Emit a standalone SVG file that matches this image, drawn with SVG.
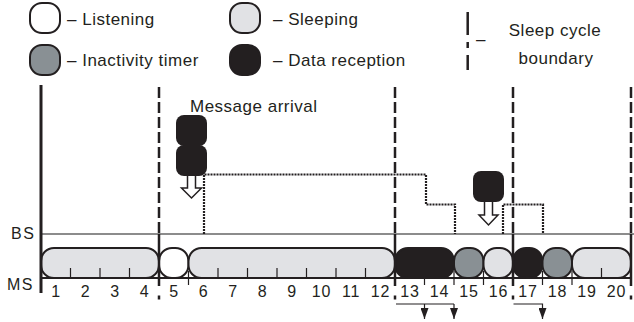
<svg xmlns="http://www.w3.org/2000/svg" width="634" height="322" viewBox="0 0 634 322">
<defs>
<style>
text{font-family:"Liberation Sans",Arial,sans-serif;fill:#231f20}
.lg{font-size:17px;letter-spacing:0.5px}
.ax{font-size:16px;letter-spacing:1.5px}
.num{font-size:16px;letter-spacing:0.8px;text-anchor:middle}
.pill{stroke:#231f20;stroke-width:2}
.sl{fill:#e1e2e5}.li{fill:#ffffff}.in{fill:#899094}.da{fill:#231f20}
.bnd{stroke:#231f20;stroke-width:2.5;stroke-dasharray:11 4;fill:none}
.bnds{stroke:#231f20;stroke-width:2.5;fill:none}
.tick{stroke:#231f20;stroke-width:1.2}
.dot{stroke:#231f20;stroke-width:2.2;stroke-dasharray:2 1;fill:none}
.hol{fill:#fff;stroke:#231f20;stroke-width:1.5}
.thin{stroke:#231f20;stroke-width:1.2;fill:none}
</style>
<marker id="tri" viewBox="0 0 11 8" refX="11" refY="4" markerWidth="11" markerHeight="8" markerUnits="userSpaceOnUse" orient="auto">
<path d="M0,0 L11,4 L0,8 Z" fill="#231f20"/>
</marker>
</defs>
<rect width="634" height="322" fill="#fff"/>

<g id="legend">
<g id="leg-listening"><rect class="pill li" x="30" y="3" width="30" height="30" rx="12"/><text class="lg" x="67" y="25">– Listening</text></g>
<g id="leg-inactivity"><rect class="pill in" x="30" y="45" width="30" height="30" rx="12"/><text class="lg" x="67" y="66">– Inactivity timer</text></g>
<g id="leg-sleeping"><rect class="pill sl" x="230" y="3" width="30" height="30" rx="12"/><text class="lg" x="273" y="25">– Sleeping</text></g>
<g id="leg-data"><rect class="pill da" x="230" y="45" width="30" height="30" rx="12"/><text class="lg" x="273" y="66">– Data reception</text></g>
<g id="leg-boundary">
<path class="bnds" d="M467.7,12 V35 M467.7,42 V48 M467.7,55 V70"/>
<text class="lg" x="476" y="45">–</text>
<text class="lg" x="555" y="36" text-anchor="middle">Sleep cycle</text>
<text class="lg" x="556" y="64" text-anchor="middle">boundary</text>
</g>
</g>

<g id="axes">
<line x1="41" y1="234" x2="634" y2="234" stroke="#666" stroke-width="1.6"/>
<line x1="41" y1="278" x2="631" y2="278" stroke="#231f20" stroke-width="2"/>
<text class="ax" x="11" y="238.5">BS</text>
<text class="ax" x="7" y="290">MS</text>
</g>

<g id="boundaries">
<path class="bnd" d="M159,87 V234 M395,87 V234 M513,87 V234 M631,87 V234"/>
</g>

<g id="timeline">
<g id="seg-1-4"><rect class="pill sl" x="41" y="248" width="118" height="30" rx="13"/></g>
<g id="seg-5"><rect class="pill li" x="159" y="248" width="29.5" height="30" rx="13"/></g>
<g id="seg-6-12"><rect class="pill sl" x="188.5" y="248" width="206.5" height="30" rx="13"/></g>
<g id="seg-13-14"><rect class="pill da" x="395" y="248" width="59" height="30" rx="13"/></g>
<g id="seg-15"><rect class="pill in" x="454" y="248" width="29.5" height="30" rx="13"/></g>
<g id="seg-16"><rect class="pill sl" x="483.5" y="248" width="29.5" height="30" rx="13"/></g>
<g id="seg-17"><rect class="pill da" x="513" y="248" width="29.5" height="30" rx="13"/></g>
<g id="seg-18"><rect class="pill in" x="542.5" y="248" width="29.5" height="30" rx="13"/></g>
<g id="seg-19-20"><rect class="pill sl" x="572" y="248" width="59" height="30" rx="13"/></g>
</g>

<g id="ticks">
<path class="tick" d="M70.5,268 V278 M100,268 V278 M129.5,268 V278 M218,268 V278 M247.5,268 V278 M277,268 V278 M306.5,268 V278 M336,268 V278 M365.5,268 V278 M601.5,268 V278 M424.5,278 V285 M188.5,271 V285 M454,271 V285 M483.5,271 V285 M542.5,271 V285 M572,271 V285"/>
<path class="bnds" d="M159,234 V286 M395,234 V286 M513,234 V286 M631,234 V286"/>
<path class="bnds" d="M159,295.5 V299.5 M395,295.5 V299.5 M513,295.5 V299.5 M631,295.5 V299.5"/>
<line x1="41" y1="85" x2="41" y2="293" stroke="#231f20" stroke-width="3"/>
</g>

<g id="slot-numbers">
<text class="num" x="56" y="297">1</text>
<text class="num" x="85.5" y="297">2</text>
<text class="num" x="115" y="297">3</text>
<text class="num" x="144.5" y="297">4</text>
<text class="num" x="174" y="297">5</text>
<text class="num" x="203.5" y="297">6</text>
<text class="num" x="233" y="297">7</text>
<text class="num" x="262.5" y="297">8</text>
<text class="num" x="292" y="297">9</text>
<text class="num" x="321.5" y="297">10</text>
<text class="num" x="351" y="297">11</text>
<text class="num" x="380.5" y="297">12</text>
<text class="num" x="410" y="297">13</text>
<text class="num" x="439.5" y="297">14</text>
<text class="num" x="469" y="297">15</text>
<text class="num" x="498.5" y="297">16</text>
<text class="num" x="528" y="297">17</text>
<text class="num" x="557.5" y="297">18</text>
<text class="num" x="587" y="297">19</text>
<text class="num" x="616.5" y="297">20</text>
</g>

<g id="message-1">
<text class="lg" x="190" y="111.7">Message arrival</text>
<rect class="da" x="176" y="115" width="31" height="31" rx="8"/>
<rect class="da" x="176" y="145" width="31" height="31" rx="8"/>
</g>
<g id="message-2">
<rect class="da" x="473" y="171" width="31" height="31" rx="8"/>
</g>

<g id="connectors">
<path class="dot" d="M204,234 V174.5 H426 V204.5 H455 V234"/>
<path class="dot" d="M503,234 V204.5 H543 V234"/>
<path class="hol" d="M187.5,176 V188 H181.5 L191.5,198 L201.5,188 H195.5 V176"/>
<path class="hol" d="M484.5,202 V215 H479 L488.5,225 L498,215 H492.5 V202"/>
<path class="thin" d="M396,304 H454"/>
<path class="thin" d="M424.5,304 V319" marker-end="url(#tri)"/>
<path class="thin" d="M454,304 V319" marker-end="url(#tri)"/>
<path class="thin" d="M513.5,304 H542.5 V319" marker-end="url(#tri)"/>
</g>
</svg>
